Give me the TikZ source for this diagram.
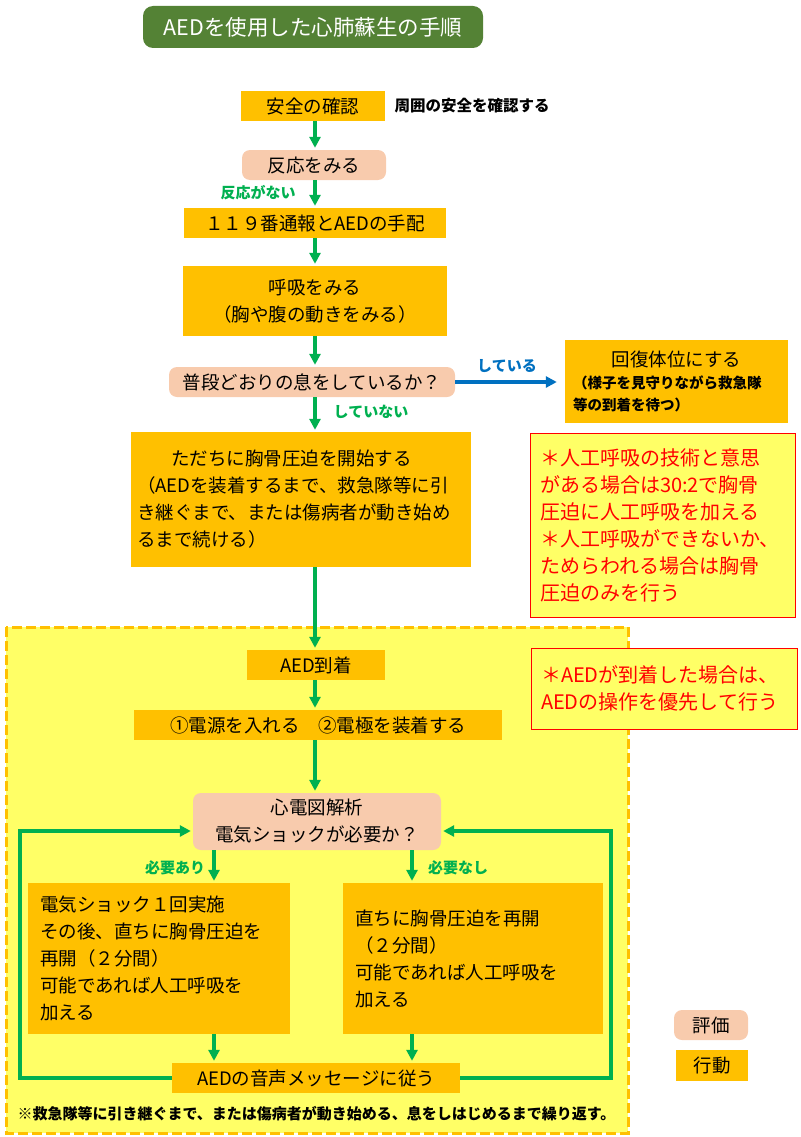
\documentclass[tikz,border=0pt]{standalone}
\usepackage{fontspec}
\setmainfont{Noto Sans CJK JP}
\usepackage{tikz}
\usetikzlibrary{arrows.meta}

\definecolor{actorange}{HTML}{FFC000}
\definecolor{evalpeach}{HTML}{F8CBAD}
\definecolor{flowgreen}{HTML}{00B050}
\definecolor{flowblue}{HTML}{0070C0}
\definecolor{noteyellow}{HTML}{FFFF66}
\definecolor{titlegreen}{HTML}{548235}

\begin{document}
\begin{tikzpicture}[
  x=1pt, y=-1pt,
  font=\fontsize{18.5}{27}\selectfont,
  act/.style={fill=actorange, inner sep=0pt},
  eval/.style={fill=evalpeach, rounded corners=8pt, inner sep=0pt},
  note/.style={fill=noteyellow, draw=red, line width=0.8pt, text=red,
               inner xsep=10pt, inner ysep=0pt, align=left,
               font=\fontsize{20}{27}\selectfont},
  flow/.style={-{Triangle[length=11pt,width=11pt]}, draw=flowgreen,
               line width=3.2pt, shorten >=2pt},
  loopback/.style={flow},
  tag/.style={text=flowgreen, font=\bfseries\fontsize{15}{18}\selectfont}
]
\useasboundingbox (0,0) rectangle (800,1137);

% ----- タイトル -----
\node[fill=titlegreen, rounded corners=10pt, text=white, inner sep=0pt,
      minimum width=340, minimum height=42,
      font=\fontsize{21.5}{26}\selectfont] (title) at (313,27)
  {AEDを使用した心肺蘇生の手順};

% ----- AED到着後の範囲（黄色の破線枠） -----
\draw[fill=noteyellow, draw=actorange, line width=3pt,
      dash pattern=on 10pt off 4pt] (6,627) rectangle (628,1133);

% ----- 上半分の流れ -----
\node[act, minimum width=144, minimum height=30] (safe) at (313,106) {安全の確認};
\node[anchor=west, font=\bfseries\fontsize{15.5}{18}\selectfont] (safeNote)
  at (391,106) {周囲の安全を確認する};
\node[eval, minimum width=144, minimum height=30] (react) at (314,165) {反応をみる};
\node[act, minimum width=262, minimum height=30] (call) at (315,223) {１１９番通報とAEDの手配};
\node[act, minimum width=264, minimum height=70, align=center] (breath) at (315,301)
  {呼吸をみる\\（胸や腹の動きをみる）};
\node[eval, minimum width=286, minimum height=30] (usual) at (312,382)
  {普段どおりの息をしているか？};
\node[act, minimum width=223, minimum height=83, inner xsep=8pt, text width=207,
      align=left, font=\fontsize{18.5}{22}\selectfont] (recov) at (676.5,381.5)
  {\makebox[207pt]{回復体位にする}\\
   {\bfseries\fontsize{14.5}{22}\selectfont （様子を見守りながら救急隊\\等の到着を待つ）}};
\node[act, minimum width=340, minimum height=135, inner xsep=6pt, text width=328,
      align=left] (cpr) at (301,499.5)
  {\hspace*{34pt}ただちに胸骨圧迫を開始する\\
   （AEDを装着するまで、救急隊等に引\\
   き継ぐまで、または傷病者が動き始め\\
   るまで続ける）};
\node[note, minimum width=265, minimum height=184, text width=245] (note1) at (662.5,525)
  {＊人工呼吸の技術と意思\\
   がある場合は30:2で胸骨\\
   圧迫に人工呼吸を加える\\
   ＊人工呼吸ができないか、\\
   ためらわれる場合は胸骨\\
   圧迫のみを行う};

% ----- AED到着後の流れ -----
\node[act, minimum width=138, minimum height=30] (arrive) at (316,665) {AED到着};
\node[act, minimum width=368, minimum height=30] (pads) at (318,725)
  {①電源を入れる　②電極を装着する};
\node[note, minimum width=266, minimum height=81, text width=246] (note2) at (664,688.5)
  {＊AEDが到着した場合は、\\AEDの操作を優先して行う};
\node[eval, minimum width=248, minimum height=57, align=center] (ecg) at (317,821.5)
  {心電図解析\\電気ショックが必要か？};
\node[act, minimum width=262, minimum height=151, inner xsep=12pt, text width=238,
      align=left] (shock) at (159,958.5)
  {電気ショック１回実施\\
   その後、直ちに胸骨圧迫を\\
   再開（２分間）\\
   可能であれば人工呼吸を\\
   加える};
\node[act, minimum width=260, minimum height=151, inner xsep=12pt, text width=236,
      align=left] (noshock) at (473,958.5)
  {直ちに胸骨圧迫を再開\\
   （２分間）\\
   可能であれば人工呼吸を\\
   加える};
\node[act, minimum width=288, minimum height=30] (voice) at (316,1078)
  {AEDの音声メッセージに従う};
\node[anchor=west, font=\bfseries\fontsize{15}{18}\selectfont] (repeat) at (14,1114)
  {※救急隊等に引き継ぐまで、または傷病者が動き始める、息をしはじめるまで繰り返す。};

% ----- 凡例 -----
\node[eval, minimum width=74, minimum height=30] (legEval) at (711,1025) {評価};
\node[act, minimum width=72, minimum height=31] (legAct) at (712,1065.5) {行動};

% ----- 矢印 -----
\coordinate (mainx) at (315,0);
\coordinate (yesx) at (214,0);
\coordinate (nox) at (412,0);
\coordinate (loopL) at (20,0);
\coordinate (loopR) at (611,0);

\draw[flow] (safe.south -| mainx) -- (react.north -| mainx);
\draw[flow] (react.south -| mainx) -- (call.north -| mainx);
\draw[flow] (call.south -| mainx) -- (breath.north -| mainx);
\draw[flow] (breath.south -| mainx) -- (usual.north -| mainx);
\draw[flow] (usual.south -| mainx) -- (cpr.north -| mainx);
\draw[flow] (cpr.south -| mainx) -- (arrive.north -| mainx);
\draw[flow] (arrive.south -| mainx) -- (pads.north -| mainx);
\draw[flow] (pads.south -| mainx) -- (ecg.north -| mainx);
\draw[flow] (ecg.south -| yesx) -- (shock.north -| yesx);
\draw[flow] (ecg.south -| nox) -- (noshock.north -| nox);
\draw[flow] (shock.south -| yesx) -- (voice.north -| yesx);
\draw[flow] (noshock.south -| nox) -- (voice.north -| nox);
\draw[flow, draw=flowblue, line width=3.4pt, shorten >=8pt]
  (usual.east) -- (recov.west |- usual.east);

% ----- 繰り返しの矢印 -----
\draw[loopback] (voice.west) -- (voice.west -| loopL) |- ([yshift=-9.5pt]ecg.west);
\draw[loopback] (voice.east) -- (voice.east -| loopR) |- ([yshift=-9.5pt]ecg.east);

% ----- 矢印のラベル -----
\node[tag] (tNoResp) at (258,193) {反応がない};
\node[tag, text=flowblue] (tYes) at (507,366) {している};
\node[tag] (tNo) at (371,412) {していない};
\node[tag] (tNeed) at (175,868) {必要あり};
\node[tag] (tNoNeed) at (458,868) {必要なし};
\end{tikzpicture}
\end{document}
